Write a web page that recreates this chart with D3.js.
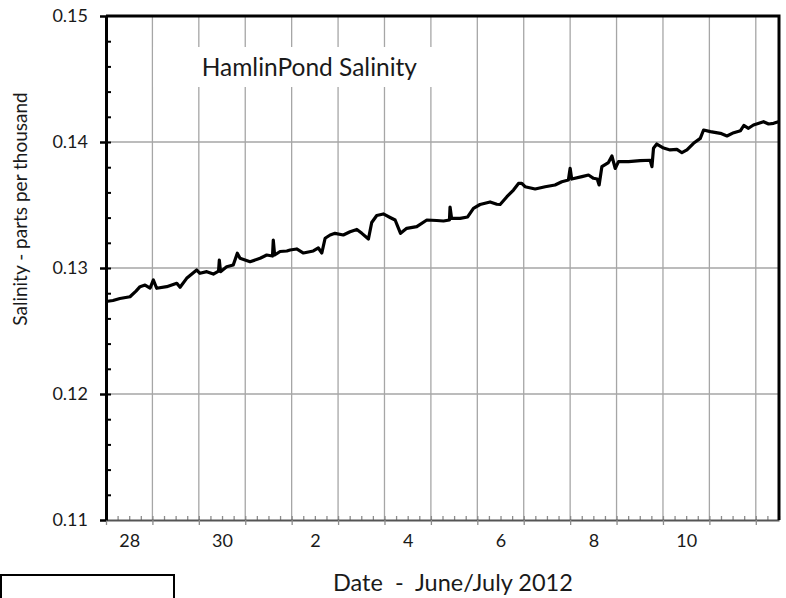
<!DOCTYPE html>
<html>
<head>
<meta charset="utf-8">
<script src="https://cdnjs.cloudflare.com/ajax/libs/d3/7.8.5/d3.min.js"></script>
<style>
  body { margin: 0; background: #fff; }
  svg { display: block; font-family: Lato, "Open Sans", sans-serif; }
</style>
</head>
<body>
<div id="chart"></div>
<script>
// readings: hours after midnight 28 June 2012, salinity in ppt
var hours = [
  0, 3.6, 7.2, 12.4, 15.5, 17.6, 20.2, 22.8, 24.5, 26.2,
  31.4, 36.6, 38.3, 41.7, 46.9, 48.6, 52.1, 55.5, 58.2, 58.6,
  59.2, 62.4, 65.8, 67.9, 69.3, 74.5, 79.7, 83.1, 86.1, 86.5,
  87.2, 90.0, 93.5, 95.2, 98.6, 102.1, 107.2, 109.8, 111.6, 113.3,
  115.9, 118.4, 122.7, 126.2, 129.7, 132.3, 134.5, 135.7, 137.4, 140.0,
  143.4, 146.9, 149.5, 151.2, 152.3, 155.5, 160.7, 165.9, 171.0, 174.5,
  177.6, 177.9, 178.7, 183.1, 187.0, 190.0, 193.4, 196.0, 198.6, 202.1,
  203.8, 207.3, 210.7, 213.3, 215.0, 216.7, 221.9, 227.1, 232.2, 235.7,
  239.1, 240.0, 240.8, 246.1, 249.5, 252.1, 254.0, 255.0, 256.4, 259.8,
  261.6, 263.3, 265.0, 270.2, 276.2, 281.4, 282.3, 283.1, 284.8, 288.3,
  291.7, 295.2, 297.8, 300.4, 303.8, 307.3, 309.0, 312.5, 317.7, 321.1,
  324.6, 328.1, 329.8, 332.2, 334.8, 340.0, 342.6, 345.2, 347.7
];
var salinity = [
  .12734, .12742, .12758, .12772, .12817, .12852, .12865, .12841, .12905, .12839,
  .12852, .12879, .12847, .12918, .12984, .12958, .12971, .12952, .12976, .13063,
  .12971, .13010, .13024, .13117, .13077, .13050, .13077, .13103, .13095, .13222,
  .13103, .13131, .13135, .13143, .13151, .13119, .13135, .13159, .13119, .13236,
  .13262, .13275, .13262, .13288, .13306, .13275, .13246, .13230, .13361, .13417,
  .13429, .13401, .13381, .13317, .13275, .13315, .13328, .13381, .13377, .13373,
  .13381, .13484, .13394, .13394, .13405, .13474, .13504, .13514, .13524, .13506,
  .13504, .13566, .13619, .13671, .13672, .13645, .13627, .13645, .13659, .13685,
  .13698, .13791, .13706, .13725, .13738, .13712, .13706, .13659, .13804, .13837,
  .13889, .13790, .13844, .13844, .13852, .13855, .13804, .13950, .13984, .13952,
  .13937, .13942, .13915, .13937, .13990, .14029, .14095, .14082, .14069, .14048,
  .14074, .14090, .14131, .14109, .14135, .14161, .14143, .14148, .14161
];
var yTicks = [0.11, 0.12, 0.13, 0.14, 0.15];
var labelDays = ["2012-06-28", "2012-06-30", "2012-07-02", "2012-07-04",
                 "2012-07-06", "2012-07-08", "2012-07-10"];

var start = new Date(2012, 5, 28, 0, 0),
    end = new Date(2012, 6, 12, 12, 0);

var data = hours.map(function(h, i) {
  return {t: new Date(start.getTime() + h * 3600e3), v: salinity[i]};
});

// set the dimensions and margins of the graph
var margin = {top: 16, left: 106},
    width = 673,
    height = 504;

var root = d3.select("#chart")
  .append("svg")
    .attr("width", 786)
    .attr("height", 598);

var svg = root.append("g")
    .attr("transform", "translate(" + margin.left + "," + margin.top + ")");

var x = d3.scaleTime()
  .domain([start, end])
  .range([0, width]);

var y = d3.scaleLinear()
  .domain([0.11, 0.15])
  .range([height, 0]);

var midnights = d3.timeDay.range(start, end);

// grid lines
svg.selectAll(".vgrid")
  .data(midnights.slice(1))
  .enter()
  .append("line")
    .attr("x1", function(d) { return x(d); })
    .attr("x2", function(d) { return x(d); })
    .attr("y1", 0)
    .attr("y2", height)
    .attr("stroke", "#a6a6a6")
    .attr("stroke-width", 1.3);
svg.selectAll(".hgrid")
  .data(yTicks.slice(1, -1))
  .enter()
  .append("line")
    .attr("x1", 0)
    .attr("x2", width)
    .attr("y1", function(d) { return y(d); })
    .attr("y2", function(d) { return y(d); })
    .attr("stroke", "#a6a6a6")
    .attr("stroke-width", 1.3);

// title box
svg.append("rect")
  .attr("x", 47.5)
  .attr("y", 31)
  .attr("width", 313)
  .attr("height", 40)
  .attr("fill", "#fff");
svg.append("text")
  .attr("x", 95.7)
  .attr("y", 60)
  .attr("font-size", 24.5)
  .attr("fill", "#1a1a1a")
  .text("HamlinPond Salinity");

// salinity line
var line = d3.line()
  .x(function(d) { return x(d.t); })
  .y(function(d) { return y(d.v); });
svg.append("path")
  .datum(data)
  .attr("d", line)
  .attr("fill", "none")
  .attr("stroke", "#000")
  .attr("stroke-width", 3.2)
  .attr("stroke-linejoin", "round");

// X axis: day ticks, 6 hour minor ticks, labels at noon
var xMinor = svg.append("g")
  .attr("transform", "translate(0," + height + ")")
  .call(d3.axisBottom(x).ticks(d3.timeHour.every(6)).tickSize(-4).tickSizeOuter(0).tickFormat(""));
xMinor.select(".domain").remove();
xMinor.selectAll("line").attr("stroke", "#8c8c8c").attr("stroke-width", 1.3);

var xAxis = svg.append("g")
  .attr("transform", "translate(0," + height + ")")
  .call(d3.axisBottom(x).tickValues(midnights).tickSize(5).tickSizeOuter(0).tickFormat(""));
xAxis.select(".domain").attr("stroke", "#555").attr("stroke-width", 2);
xAxis.selectAll("line").attr("stroke", "#8c8c8c").attr("stroke-width", 1.3);

var noons = labelDays.map(function(s) { return d3.timeHour.offset(d3.timeParse("%Y-%m-%d")(s), 12); });
var xLabels = svg.append("g")
  .attr("transform", "translate(0," + height + ")")
  .call(d3.axisBottom(x).tickValues(noons).tickSize(0).tickPadding(14).tickFormat(d3.timeFormat("%-d")));
xLabels.select(".domain").remove();
xLabels.selectAll("text")
  .attr("font-family", "Lato")
  .attr("font-size", 18)
  .attr("fill", "#1a1a1a");

// Y axis
var yMinor = svg.append("g")
  .call(d3.axisLeft(y).tickValues(d3.range(0.112, 0.1499, 0.002)).tickSize(-5).tickSizeOuter(0).tickFormat(""));
yMinor.select(".domain").remove();
yMinor.selectAll("line").attr("stroke", "#000").attr("stroke-width", 2);

var yAxis = svg.append("g")
  .call(d3.axisLeft(y).tickValues(yTicks).tickSize(6).tickSizeOuter(0).tickPadding(12).tickFormat(d3.format(".2f")));
yAxis.select(".domain").attr("stroke", "#000").attr("stroke-width", 3);
yAxis.selectAll("line").attr("stroke", "#000").attr("stroke-width", 2.5);
yAxis.selectAll("text")
  .attr("font-family", "Lato")
  .attr("font-size", 18)
  .attr("fill", "#1a1a1a");

// top and right border
svg.append("path")
  .attr("d", "M0,0H" + width + "V" + height)
  .attr("fill", "none")
  .attr("stroke", "#000")
  .attr("stroke-width", 3);

// axis titles
root.append("text")
  .attr("transform", "translate(27,209)rotate(-90)")
  .attr("text-anchor", "middle")
  .attr("font-size", 19)
  .attr("fill", "#1a1a1a")
  .text("Salinity - parts per thousand");
root.append("text")
  .attr("x", 333)
  .attr("y", 591)
  .attr("font-size", 23.5)
  .attr("fill", "#1a1a1a")
  .style("white-space", "pre")
  .text("Date  -  June/July 2012");

// empty box at the bottom left
root.append("rect")
  .attr("x", 1)
  .attr("y", 575)
  .attr("width", 173)
  .attr("height", 40)
  .attr("fill", "none")
  .attr("stroke", "#000")
  .attr("stroke-width", 2);
</script>
</body>
</html>
